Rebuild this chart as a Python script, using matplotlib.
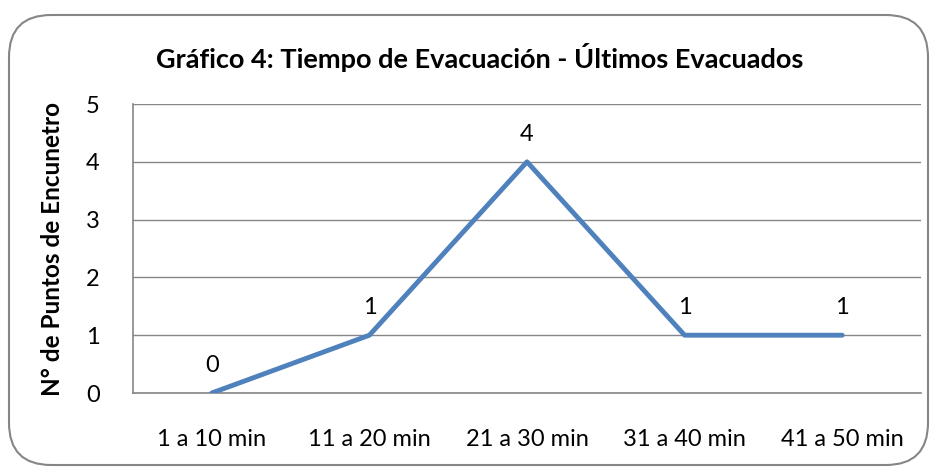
import matplotlib
matplotlib.use("Agg")
import matplotlib.pyplot as plt
from matplotlib.patches import FancyBboxPatch

categories = ["1 a 10 min", "11 a 20 min", "21 a 30 min", "31 a 40 min", "41 a 50 min"]
values = [0, 1, 4, 1, 1]
yticks = [0, 1, 2, 3, 4, 5]

plt.rcParams['font.family'] = ['Lato', 'DejaVu Sans']

fig = plt.figure(figsize=(9.38, 4.71), dpi=100)
fig.patch.set_facecolor('white')

border = FancyBboxPatch((9/938, 6/471), 919/938, 450/471,
                        boxstyle="round,pad=0,rounding_size=0.045",
                        transform=fig.transFigure, facecolor='none',
                        edgecolor='#868686', linewidth=1.5, mutation_aspect=938/471)
fig.patches.append(border)

ax = fig.add_axes([133/938, 1 - 393/471, 788/938, 289/471])
x = list(range(len(categories)))
ax.plot(x, values, color='#4F81BD', linewidth=3.5, solid_capstyle='round', zorder=3)
for xi, v in zip(x, values):
    ax.annotate(str(v), (xi, v), xytext=(0, 20), textcoords='offset points',
                ha='center', va='center', fontsize=17)

ax.set_xlim(-0.5, len(categories) - 0.5)
ax.set_ylim(0, 5)
ax.set_yticks(yticks)
ax.set_xticks(x)
ax.set_xticklabels(categories)
ax.tick_params(axis='both', length=0, labelsize=17)
ax.tick_params(axis='x', pad=26)
ax.tick_params(axis='y', pad=24)
ax.grid(axis='y', color='#868686', linewidth=1)
ax.set_axisbelow(True)
for s in ['top', 'right']:
    ax.spines[s].set_visible(False)
for s in ['left', 'bottom']:
    ax.spines[s].set_color('#868686')
    ax.spines[s].set_linewidth(1.2)

ax.set_ylabel("N° de Puntos de Encunetro", fontsize=17.5, fontweight='bold', labelpad=16)
fig.text(480/938, 1 - 57/471, "Gráfico 4: Tiempo de Evacuación - Últimos Evacuados",
         ha='center', va='center', fontsize=19.5, fontweight='bold')

fig.savefig("out.png", dpi=100)
